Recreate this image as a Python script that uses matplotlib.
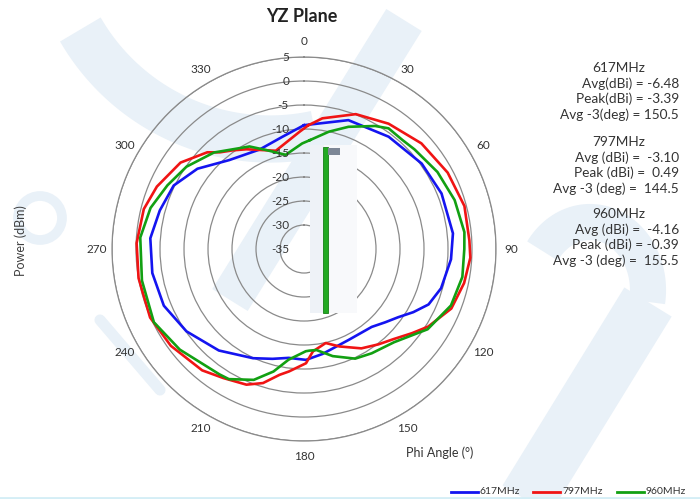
import numpy as np
import matplotlib
matplotlib.use("Agg")
import matplotlib.pyplot as plt
from matplotlib.patches import Rectangle, Circle
from matplotlib.transforms import offset_copy

plt.rcParams['font.family'] = ['Lato', 'DejaVu Sans']

# traced pattern data, angle (deg, clockwise from top) / gain (dB)
blue_deg = [0, 19, 37, 54, 68, 84, 94, 106, 114, 120, 126, 132, 139, 154, 170, 179,
            188, 196, 205, 220, 235, 248, 261, 274, 285, 296, 307, 320, 336, 349]
blue_db = [-9.2, -6.6, -5.7, -4.7, -4.1, -3.8, -4.3, -5.3, -6.6, -8.7, -10.8, -12.2,
           -13.5, -13.9, -12.8, -11.9, -12.1, -11.2, -9.9, -7.4, -5.1, -3.5, -3.0,
           -2.9, -3.9, -4.8, -7.2, -10.8, -12.3, -11.2]

red_deg = [2, 8, 21, 34, 48, 62, 75, 87, 93, 102, 112, 122, 128, 135, 142, 150, 160,
           167, 175, 179, 187, 191, 197, 203, 212, 220, 234, 246, 260, 272, 284, 293,
           305, 315, 319, 324, 330, 344, 350, 358]
red_db = [-9.2, -7.5, -4.9, -3.5, -2.1, -1.1, -0.4, -0.5, -0.3, -0.9, -1.9, -4.5,
          -6.5, -8.5, -9.8, -11.1, -13.4, -14.9, -13.6, -11.2, -9.3, -8.3, -5.8, -4.3,
          -3.3, -2.0, -0.7, 0.1, 0.0, -0.1, -0.6, -1.7, -3.6, -6.5, -8.3, -9.6, -11.0,
          -13.7, -12.6, -10.5]

green_deg = [3, 12, 20, 30, 35, 42, 48, 60, 72, 84, 90, 100, 111, 123, 136, 147, 155,
             165, 173, 177, 179, 188, 194, 201, 210, 214, 231, 244, 259, 274, 285,
             295, 305, 317, 332, 339, 349, 359]
green_db = [-12.3, -10.0, -7.9, -5.4, -4.3, -4.4, -4.0, -2.9, -2.0, -1.4, -1.6, -1.5,
            -2.2, -4.3, -8.0, -9.1, -9.8, -11.9, -13.8, -13.8, -13.7, -11.7, -8.7,
            -5.8, -3.7, -3.5, -1.7, -0.2, -0.6, -0.8, -1.9, -3.6, -5.1, -7.5, -10.8,
            -12.9, -15.0, -13.0]

series = [("617MHz", blue_deg, blue_db, "#1414f0"),
          ("797MHz", red_deg, red_db, "#f01414"),
          ("960MHz", green_deg, green_db, "#12a012")]

r_ticks = [-35, -30, -25, -20, -15, -10, -5, 0, 5]
theta_ticks = list(range(0, 360, 30))

stats = [("617MHz", ["Avg(dBi) = -6.48", "Peak(dBi) = -3.39", "Avg -3(deg) = 150.5"]),
         ("797MHz", ["Avg (dBi) =  -3.10", "Peak (dBi) =  0.49", "Avg -3 (deg) =  144.5"]),
         ("960MHz", ["Avg (dBi) =  -4.16", "Peak (dBi) = -0.39", "Avg -3 (deg) =  155.5"])]

fig = plt.figure(figsize=(7, 4.99), dpi=100)

# background layer in pixel coords (watermark)
bg = fig.add_axes([0, 0, 1, 1], zorder=0)
bg.set_xlim(0, 700)
bg.set_ylim(499, 0)
bg.axis("off")
wm = "#e9f1f8"
t = np.radians(np.linspace(150, 78, 60))
bg.plot(270 + 219 * np.cos(t), -80 + 219 * np.sin(t), color=wm, lw=34,
        solid_capstyle="butt")
bg.plot([404, 230], [20, 300], color=wm, lw=30, solid_capstyle="butt")
t2 = np.radians(np.linspace(215, 370, 60))
bg.plot(590 + 58 * np.cos(t2), 290 + 68 * np.sin(t2), color=wm, lw=26,
        solid_capstyle="butt")
bg.plot([648, 520], [302, 510], color=wm, lw=40, solid_capstyle="butt")
bg.add_patch(Circle((40, 218), 22, fill=False, ec=wm, lw=7))
bg.plot([100, 160], [320, 390], color=wm, lw=8, solid_capstyle="round")
bg.plot([0, 700], [498, 498], color="#d4eef6", lw=2)

# polar chart
ax = fig.add_axes([0.16, 0.1162, 0.5486, 0.7695], projection="polar", zorder=1)
ax.set_facecolor("none")
ax.set_theta_zero_location("N")
ax.set_theta_direction(-1)
ax.set_rlim(-35, 5)
ax.set_rticks(r_ticks)
ax.set_yticklabels([])
ax.set_xticks(np.radians(theta_ticks))
ax.set_xticklabels([])
ax.xaxis.grid(False)
ax.yaxis.grid(True, color="#8a8a8a", lw=0.9)
ax.spines["polar"].set_color("#8a8a8a")
ax.spines["polar"].set_linewidth(0.9)

for name, deg, db, col in series:
    th = np.radians(deg + deg[:1])
    ax.plot(th, db + db[:1], color=col, lw=1.9, zorder=3,
            solid_joinstyle="round")

lab_tr = offset_copy(ax.transData, fig=fig, x=-15, y=0, units="dots")
for r in r_ticks:
    ax.text(0, r, str(r), transform=lab_tr, ha="right", va="center",
            fontsize=8.5, color="#333333")
for a in theta_ticks:
    ax.text(np.radians(a), 8.2, str(a), ha="center", va="center",
            fontsize=8.5, color="#333333", clip_on=False)

# overlay layer: odd legend artifact, texts, bottom legend
ov = fig.add_axes([0, 0, 1, 1], zorder=2)
ov.set_xlim(0, 700)
ov.set_ylim(499, 0)
ov.axis("off")
ov.add_patch(Rectangle((310, 145), 47, 168, fc="#f8f9fb", ec="none"))
ov.add_patch(Rectangle((310, 145), 14, 168, fc="#eef2f7", ec="none"))
ov.add_patch(Rectangle((322.5, 147), 5.5, 166, fc="#22aa22", ec="#168016", lw=0.6))
ov.add_patch(Rectangle((328, 147.5), 12, 7.5, fc="#7d8796", ec="none"))

ov.text(302, 16, "YZ Plane", ha="center", va="center", fontsize=13,
        fontweight="bold", color="#222222")
ov.text(21, 241, "Power (dBm)", ha="center", va="center", rotation=90,
        fontsize=9, color="#404040")
ov.text(440, 453, "Phi Angle (°)", ha="center", va="center", fontsize=9,
        color="#333333")

group_y = [68, 142, 214]
for (head, rows), y0 in zip(stats, group_y):
    ov.text(619, y0, head, ha="center", va="center", fontsize=9.8, color="#333333")
    for i, row in enumerate(rows):
        ov.text(679, y0 + 15.5 * (i + 1), row, ha="right",
                va="center", fontsize=9.8, color="#333333")

leg_x = [451, 533, 617]
for (name, deg, db, col), lx in zip(series, leg_x):
    ov.plot([lx, lx + 27], [492, 492], color=col, lw=2)
    ov.text(lx + 29, 491.5, name, ha="left", va="center", fontsize=7.5,
            color="#333333")

fig.savefig("out.png", dpi=100)
